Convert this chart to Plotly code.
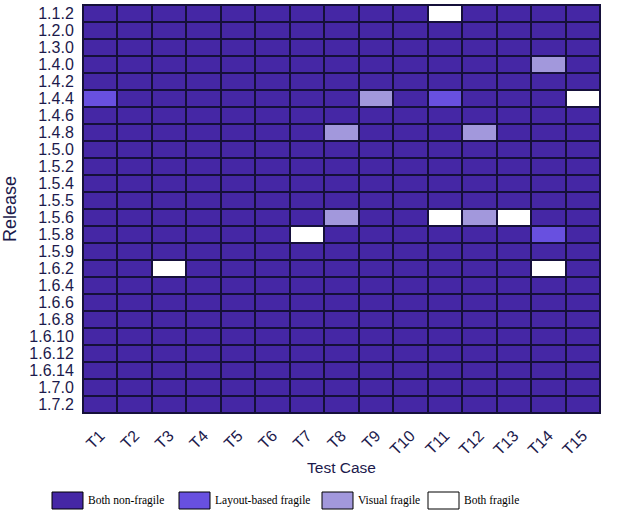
import plotly.graph_objects as go

releases = ['1.1.2', '1.2.0', '1.3.0', '1.4.0', '1.4.2', '1.4.4', '1.4.6', '1.4.8',
            '1.5.0', '1.5.2', '1.5.4', '1.5.5', '1.5.6', '1.5.8', '1.5.9', '1.6.2',
            '1.6.4', '1.6.6', '1.6.8', '1.6.10', '1.6.12', '1.6.14', '1.7.0', '1.7.2']
tests = ['T%d' % i for i in range(1, 16)]

# 0 = both non-fragile, 1 = layout-based fragile, 2 = visual fragile, 3 = both fragile
status = [
    [0, 0, 0, 0, 0, 0, 0, 0, 0, 0, 3, 0, 0, 0, 0],  # 1.1.2
    [0, 0, 0, 0, 0, 0, 0, 0, 0, 0, 0, 0, 0, 0, 0],  # 1.2.0
    [0, 0, 0, 0, 0, 0, 0, 0, 0, 0, 0, 0, 0, 0, 0],  # 1.3.0
    [0, 0, 0, 0, 0, 0, 0, 0, 0, 0, 0, 0, 0, 2, 0],  # 1.4.0
    [0, 0, 0, 0, 0, 0, 0, 0, 0, 0, 0, 0, 0, 0, 0],  # 1.4.2
    [1, 0, 0, 0, 0, 0, 0, 0, 2, 0, 1, 0, 0, 0, 3],  # 1.4.4
    [0, 0, 0, 0, 0, 0, 0, 0, 0, 0, 0, 0, 0, 0, 0],  # 1.4.6
    [0, 0, 0, 0, 0, 0, 0, 2, 0, 0, 0, 2, 0, 0, 0],  # 1.4.8
    [0, 0, 0, 0, 0, 0, 0, 0, 0, 0, 0, 0, 0, 0, 0],  # 1.5.0
    [0, 0, 0, 0, 0, 0, 0, 0, 0, 0, 0, 0, 0, 0, 0],  # 1.5.2
    [0, 0, 0, 0, 0, 0, 0, 0, 0, 0, 0, 0, 0, 0, 0],  # 1.5.4
    [0, 0, 0, 0, 0, 0, 0, 0, 0, 0, 0, 0, 0, 0, 0],  # 1.5.5
    [0, 0, 0, 0, 0, 0, 0, 2, 0, 0, 3, 2, 3, 0, 0],  # 1.5.6
    [0, 0, 0, 0, 0, 0, 3, 0, 0, 0, 0, 0, 0, 1, 0],  # 1.5.8
    [0, 0, 0, 0, 0, 0, 0, 0, 0, 0, 0, 0, 0, 0, 0],  # 1.5.9
    [0, 0, 3, 0, 0, 0, 0, 0, 0, 0, 0, 0, 0, 3, 0],  # 1.6.2
    [0, 0, 0, 0, 0, 0, 0, 0, 0, 0, 0, 0, 0, 0, 0],  # 1.6.4
    [0, 0, 0, 0, 0, 0, 0, 0, 0, 0, 0, 0, 0, 0, 0],  # 1.6.6
    [0, 0, 0, 0, 0, 0, 0, 0, 0, 0, 0, 0, 0, 0, 0],  # 1.6.8
    [0, 0, 0, 0, 0, 0, 0, 0, 0, 0, 0, 0, 0, 0, 0],  # 1.6.10
    [0, 0, 0, 0, 0, 0, 0, 0, 0, 0, 0, 0, 0, 0, 0],  # 1.6.12
    [0, 0, 0, 0, 0, 0, 0, 0, 0, 0, 0, 0, 0, 0, 0],  # 1.6.14
    [0, 0, 0, 0, 0, 0, 0, 0, 0, 0, 0, 0, 0, 0, 0],  # 1.7.0
    [0, 0, 0, 0, 0, 0, 0, 0, 0, 0, 0, 0, 0, 0, 0],  # 1.7.2
]

labels = ['Both non-fragile', 'Layout-based fragile', 'Visual fragile', 'Both fragile']
colors = ['#4527a5', '#6850e0', '#a298dc', '#ffffff']

# discrete colorscale
cs = []
n = len(colors)
for i, c in enumerate(colors):
    cs.append([i / n, c])
    cs.append([(i + 1) / n, c])

fig = go.Figure(go.Heatmap(
    z=status,
    x=tests,
    y=releases,
    colorscale=cs,
    zmin=-0.5,
    zmax=n - 0.5,
    showscale=False,
    xgap=2,
    ygap=2,
    hovertemplate='%{y} %{x}<extra></extra>',
))

W, H = 618, 513
L, R, T, B = 83, 18, 5, 100
pw, ph = W - L - R, H - T - B


def px_x(x):
    return (x - L) / pw


def px_y(y):
    return (H - B - y) / ph


# legend drawn below the plot
sw_left = [52, 179, 322, 428]
shapes = []
annotations = []
for lab, col, x0 in zip(labels, colors, sw_left):
    shapes.append(dict(type='rect', xref='paper', yref='paper',
                       x0=px_x(x0), x1=px_x(x0 + 31), y0=px_y(509), y1=px_y(492),
                       fillcolor=col, line=dict(color='black', width=1)))
    annotations.append(dict(xref='paper', yref='paper', x=px_x(x0 + 34), y=px_y(500.5),
                            text=lab, showarrow=False, xanchor='left', yanchor='middle',
                            font=dict(family='Liberation Serif', size=11.5, color='black')))

tick_font = dict(family='Liberation Sans', size=16, color='#1c1a4c')

fig.update_layout(
    width=W, height=H,
    margin=dict(l=L, r=R, t=T, b=B),
    paper_bgcolor='white',
    plot_bgcolor='#15103a',
    shapes=shapes,
    annotations=annotations,
    xaxis=dict(title=dict(text='Test Case', standoff=4,
                          font=dict(family='Liberation Sans', size=15.5, color='#1c1a4c')),
               tickfont=tick_font, tickangle=-45, showgrid=False, zeroline=False,
               tickmode='array', tickvals=tests,
               showline=True, linecolor='#15103a', linewidth=1, mirror=True,
               ticks='outside', ticklen=6, tickcolor='rgba(0,0,0,0)', automargin=False),
    yaxis=dict(title=dict(text='Release', standoff=8,
                          font=dict(family='Liberation Sans', size=18, color='#1c1a4c')),
               tickfont=tick_font, autorange='reversed', showgrid=False, zeroline=False,
               tickmode='array', tickvals=releases,
               showline=True, linecolor='#15103a', linewidth=1, mirror=True,
               ticks='outside', ticklen=5, tickcolor='rgba(0,0,0,0)', automargin=False),
)

# the page has a default body margin; drop it so the figure fills the window
fig.write_html('out.html', config={'displayModeBar': False},
               post_script="document.body.style.margin='0';")
